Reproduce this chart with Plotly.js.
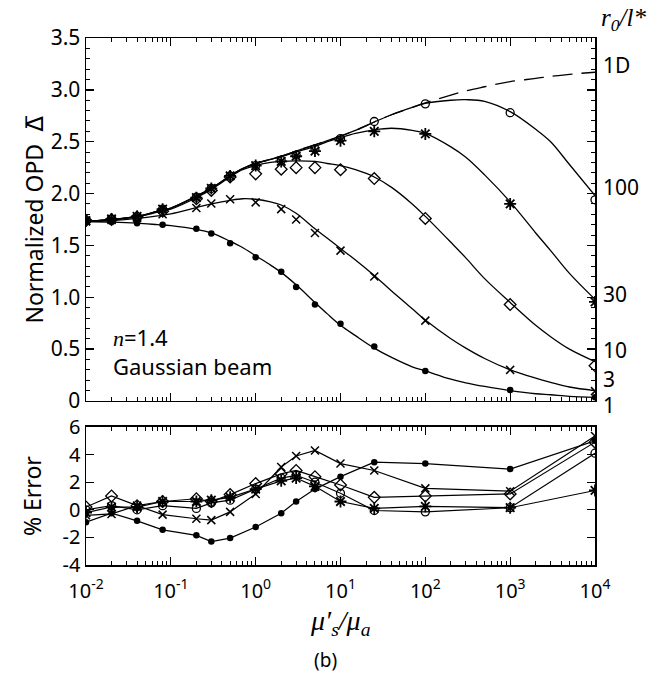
<!DOCTYPE html>
<html><head><meta charset="utf-8">
<script src="https://cdn.plot.ly/plotly-3.0.1.min.js"></script>
<style>html,body{margin:0;padding:0;background:#fff}#chart{width:649px;height:678px}</style>
</head><body><div id="chart"></div>
<script>
// ---- data ----
const xSim = [0.01, 0.02, 0.04, 0.08, 0.2, 0.3, 0.5, 1, 2, 3, 5, 10, 25, 100, 1000, 10000];
const xTheory = [0.01, 0.02, 0.04, 0.07, 0.1, 0.2, 0.3, 0.5, 0.7, 1, 1.5, 2, 3, 5, 7, 10, 15, 25, 40, 70, 100, 200, 300, 500, 1000, 2000, 3000, 5000, 10000];

const theoryR1   = [1.73,1.725,1.715,1.70,1.69,1.655,1.62,1.54,1.48,1.40,1.31,1.24,1.12,0.95,0.84,0.73,0.63,0.51,0.42,0.33,0.29,0.21,0.175,0.14,0.10,0.07,0.06,0.045,0.035];
const theoryR3   = [1.73,1.74,1.76,1.785,1.805,1.865,1.90,1.935,1.95,1.945,1.92,1.89,1.81,1.66,1.57,1.47,1.36,1.21,1.06,0.89,0.78,0.60,0.51,0.41,0.30,0.22,0.18,0.135,0.10];
const theoryR10  = [1.73,1.745,1.775,1.82,1.85,1.96,2.04,2.16,2.23,2.27,2.30,2.31,2.315,2.31,2.29,2.27,2.23,2.16,2.06,1.90,1.78,1.53,1.38,1.18,0.95,0.73,0.62,0.50,0.38];
const theoryR30  = [1.73,1.75,1.78,1.83,1.86,1.975,2.05,2.17,2.24,2.29,2.33,2.355,2.40,2.455,2.50,2.54,2.58,2.615,2.63,2.61,2.58,2.45,2.35,2.18,1.92,1.62,1.45,1.23,0.98];
const theoryR100 = [1.73,1.75,1.78,1.83,1.86,1.975,2.05,2.17,2.24,2.29,2.33,2.36,2.41,2.47,2.51,2.555,2.61,2.69,2.76,2.83,2.87,2.90,2.905,2.89,2.79,2.62,2.50,2.28,1.98];
const theory1D   = [1.73,1.75,1.78,1.83,1.86,1.975,2.05,2.17,2.24,2.29,2.33,2.36,2.41,2.47,2.51,2.555,2.61,2.69,2.76,2.83,2.875,2.95,2.99,3.03,3.08,3.11,3.13,3.15,3.17];

const simR1   = [1.73,1.725,1.715,1.70,1.66,1.615,1.52,1.385,1.245,1.10,0.93,0.745,0.525,0.29,0.105,0.035];
const simR3   = [1.73,1.745,1.765,1.80,1.86,1.905,1.945,1.915,1.85,1.75,1.62,1.45,1.20,0.775,0.30,0.095];
const simR10  = [1.74,1.75,1.775,1.83,1.95,2.03,2.16,2.19,2.235,2.25,2.25,2.23,2.145,1.76,0.93,0.34];
const simR30  = [1.74,1.755,1.78,1.85,1.96,2.05,2.17,2.27,2.31,2.36,2.41,2.51,2.60,2.575,1.90,0.955];
const simR100 = [1.735,1.75,1.775,1.85,1.965,2.05,2.17,2.27,2.32,2.37,2.43,2.53,2.695,2.865,2.78,1.94];

const errR1   = [-0.9,-0.25,-0.8,-1.45,-1.85,-2.3,-2.05,-1.25,-0.25,0.6,1.5,2.4,3.45,3.35,2.95,5.0];
const errR3   = [-0.4,-0.3,0.3,-0.35,-0.65,-0.75,-0.15,1.15,3.1,3.9,4.3,3.35,2.85,1.55,1.35,5.35];
const errR10  = [0.2,1.0,0.3,0.6,0.8,0.6,1.1,1.9,2.6,2.85,2.4,1.8,0.9,1.0,1.15,4.9];
const errR30  = [-0.2,0.2,0.2,0.6,0.6,0.7,0.9,1.5,2.1,2.3,1.7,0.6,0.1,0.25,0.15,1.4];
const errR100 = [0.0,0.3,0.0,0.3,0.1,0.5,0.7,1.5,2.3,2.5,2.0,1.2,-0.05,-0.15,0.15,4.1];

const xTickVals = [0.01, 0.1, 1, 10, 100, 1000, 10000];
const xTickText = ['10<sup>-2</sup>','10<sup>-1</sup>','10<sup>0</sup>','10<sup>1</sup>','10<sup>2</sup>','10<sup>3</sup>','10<sup>4</sup>'];
const yTopTickVals = [0, 0.5, 1, 1.5, 2, 2.5, 3, 3.5];
const yTopTickText = ['0','0.5','1.0','1.5','2.0','2.5','3.0','3.5'];
const yErrTickVals = [-4, -2, 0, 2, 4, 6];
const yErrTickText = ['-4','-2','0','2','4','6'];
const rLabelText = ['1D','100','30','10','3','1'];
const rLabelY = [3.24, 2.06, 1.03, 0.49, 0.21, -0.04];

// ---- styling ----
const SANS = 'Noto Sans, Open Sans, Liberation Sans, sans-serif';
const SERIF = 'Liberation Serif, DejaVu Serif, serif';
const markerStyles = [
  {symbol:'circle', size:6.5, color:'black', line:{width:0}},
  {symbol:'x-thin-open', size:8, color:'black', line:{width:1.5, color:'black'}},
  {symbol:'diamond-open', size:9, color:'black', line:{width:1.3, color:'black'}},
  {symbol:'asterisk-open', size:10, color:'black', line:{width:1.8, color:'black'}},
  {symbol:'circle-open', size:8, color:'black', line:{width:1.3, color:'black'}}
];
const theorySets = [theoryR1, theoryR3, theoryR10, theoryR30, theoryR100];
const simSets = [simR1, simR3, simR10, simR30, simR100];
const errSets = [errR1, errR3, errR10, errR30, errR100];

const traces = [];
traces.push({x:xTheory, y:theory1D, xaxis:'x2', yaxis:'y2', mode:'lines',
  line:{color:'black', width:1.3, shape:'spline', dash:'20px,9px'}, showlegend:false, hoverinfo:'skip'});
theorySets.forEach(t => traces.push({x:xTheory, y:t, xaxis:'x2', yaxis:'y2', mode:'lines',
  line:{color:'black', width:1.3, shape:'spline'}, showlegend:false, hoverinfo:'skip'}));
simSets.forEach((s,i) => traces.push({x:xSim, y:s, xaxis:'x2', yaxis:'y2', mode:'markers',
  marker:markerStyles[i], showlegend:false, hoverinfo:'skip'}));
errSets.forEach((e,i) => traces.push({x:xSim, y:e, xaxis:'x', yaxis:'y', mode:'lines+markers',
  line:{color:'black', width:1.2}, marker:markerStyles[i], showlegend:false, hoverinfo:'skip'}));

const minorX = [];
for (let d = -2; d < 4; d++) for (let k = 2; k <= 9; k++) minorX.push(k * Math.pow(10, d));

const axisCommon = {showline:true, linecolor:'black', linewidth:1.5, mirror:'ticks', ticks:'inside',
  tickcolor:'black', tickwidth:1.3, showgrid:false, zeroline:false, tickfont:{family:SANS, size:21, color:'black'}};

const xCommon = Object.assign({}, axisCommon, {type:'log', range:[-2,4], tickmode:'array', tickvals:xTickVals, ticklen:8,
  tickfont:{family:SANS, size:20, color:'black'},
  minor:{tickmode:'array', tickvals:minorX, ticks:'inside', ticklen:4, tickcolor:'black', tickwidth:1}});

const topBottom = 0.3112, errTop = 0.2619;
const topRange = 3.5;
const toPaperTop = v => topBottom + (v / topRange) * (1 - topBottom);

const annotations = [];
rLabelText.forEach((t,i) => annotations.push({text:t, xref:'paper', yref:'paper', x:1.0115, y:toPaperTop(rLabelY[i]),
  xanchor:'left', yanchor:'middle', showarrow:false, font:{family:SANS, size:21, color:'black'}}));
annotations.push({text:'<i>r<sub>0</sub>/l*</i>', xref:'paper', yref:'paper', x:1.008, y:1.035, xanchor:'left', yanchor:'middle',
  showarrow:false, font:{family:SERIF, size:25, color:'black'}});
annotations.push({text:'<span style="font-family:Liberation Serif;font-style:italic">n</span>=1.4', xref:'paper', yref:'paper',
  x:0.05, y:0.433, xanchor:'left', yanchor:'middle', showarrow:false, font:{family:SANS, size:22, color:'black'}});
annotations.push({text:'Gaussian beam', xref:'paper', yref:'paper', x:0.05, y:0.378, xanchor:'left', yanchor:'middle',
  showarrow:false, font:{family:SANS, size:22, color:'black'}});
annotations.push({text:'Normalized OPD  <span style="font-family:DejaVu Sans">\u0394\u0305</span>', xref:'paper', yref:'paper', x:-0.102, y:(topBottom+1)/2, textangle:-90,
  xanchor:'center', yanchor:'middle', showarrow:false, font:{family:SANS, size:23, color:'black'}});
annotations.push({text:'% Error', xref:'paper', yref:'paper', x:-0.106, y:errTop/2, textangle:-90,
  xanchor:'center', yanchor:'middle', showarrow:false, font:{family:SANS, size:23, color:'black'}});
annotations.push({text:'<i>\u03bc\u2032<sub>s</sub>/\u03bc<sub>a</sub></i>', xref:'paper', yref:'paper', x:0.5, y:-0.11,
  xanchor:'center', yanchor:'middle', showarrow:false, font:{family:SERIF, size:28, color:'black'}});
annotations.push({text:'(b)', xref:'paper', yref:'paper', x:0.4715, y:-0.18, xanchor:'center', yanchor:'middle',
  showarrow:false, font:{family:SANS, size:19, color:'black'}});

const layout = {
  width:649, height:678, paper_bgcolor:'white', plot_bgcolor:'white',
  margin:{l:86, r:54, t:38, b:113},
  showlegend:false,
  xaxis: Object.assign({}, xCommon, {anchor:'y', ticktext:xTickText, showticklabels:true, ticklabelstandoff:7}),
  yaxis: Object.assign({}, axisCommon, {domain:[0, errTop], anchor:'x', range:[-4,6], tickmode:'array',
    tickvals:yErrTickVals, ticktext:yErrTickText, ticklen:8, tickfont:{family:SANS, size:20, color:'black'}}),
  xaxis2: Object.assign({}, xCommon, {anchor:'y2', matches:'x', showticklabels:false}),
  yaxis2: Object.assign({}, axisCommon, {domain:[topBottom, 1], anchor:'x2', range:[0,topRange], tickmode:'array',
    tickvals:yTopTickVals, ticktext:yTopTickText, ticklen:8,
    minor:{tickmode:'linear', tick0:0, dtick:0.1, ticks:'inside', ticklen:4, tickcolor:'black', tickwidth:1}}),
  annotations: annotations
};

Plotly.newPlot('chart', traces, layout, {staticPlot:true, displayModeBar:false});
</script></body></html>
